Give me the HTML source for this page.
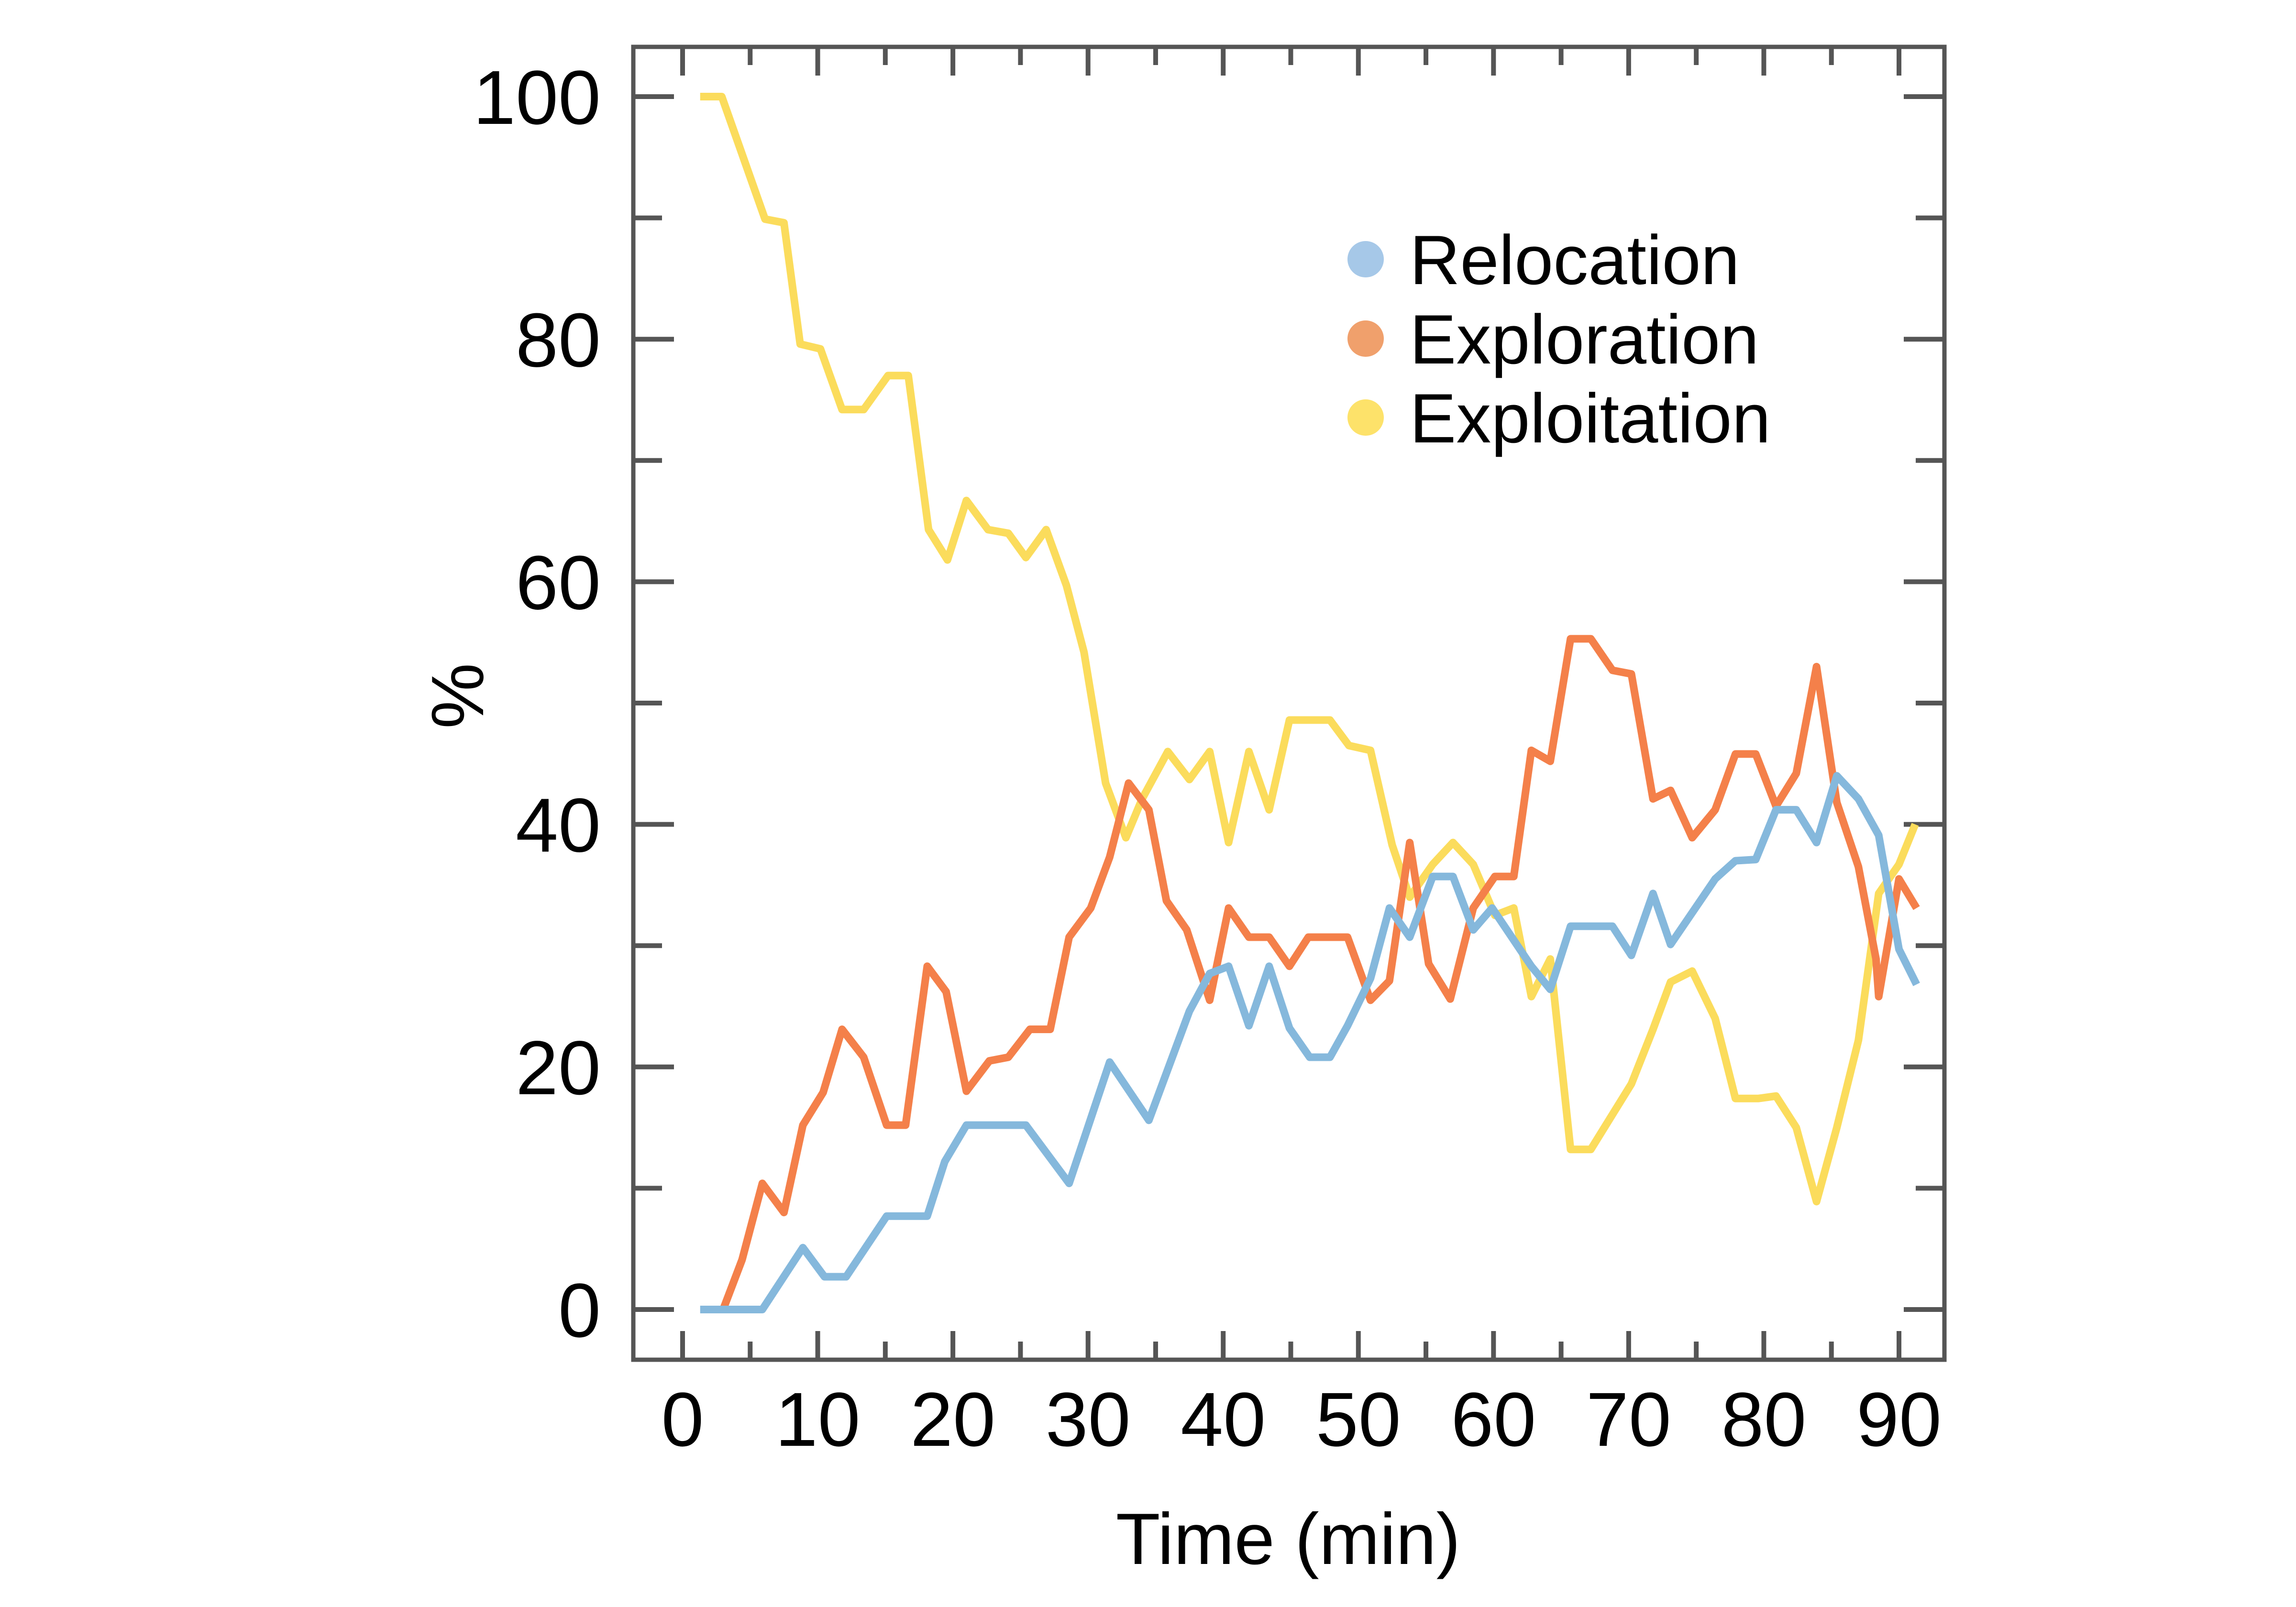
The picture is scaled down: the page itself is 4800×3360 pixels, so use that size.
<!DOCTYPE html>
<html><head><meta charset="utf-8">
<style>
html,body{margin:0;padding:0;background:#fff;}
svg{display:block;font-family:"Liberation Sans",Arial,sans-serif;}
</style></head>
<body>
<svg id="chart" width="4800" height="3360" viewBox="0 0 4800 3360" xmlns="http://www.w3.org/2000/svg">
<rect x="0" y="0" width="4800" height="3360" fill="#fff"/>
<g id="ticks"></g>
<g id="lines"></g>
<rect x="1324" y="98" width="2741" height="2745" fill="none" stroke="#555" stroke-width="9"/>
<g id="labels" font-size="160" fill="#000"></g>
<text x="0" y="0" font-size="155" text-anchor="middle" transform="translate(1010,1455) rotate(-90)">%</text>
<text x="2693" y="3270" font-size="152" text-anchor="middle">Time (min)</text>
<g font-size="146">
  <circle cx="2855" cy="542" r="38" fill="#a6c8e8"/>
  <text x="2947" y="594">Relocation</text>
  <circle cx="2855" cy="708" r="38" fill="#f0a06c"/>
  <text x="2947" y="760">Exploration</text>
  <circle cx="2855" cy="873" r="38" fill="#fde26a"/>
  <text x="2947" y="925">Exploitation</text>
</g>
</svg>
<script>
const xTickLabels = ["0","10","20","30","40","50","60","70","80","90"];
const yTickLabels = ["0","20","40","60","80","100"];
const relocT = [1.3,5.9,8.9,10.5,12.1,15.1,18.1,19.4,21,25.4,28.6,31.6,34.5,37.5,39,40.4,41.9,43.4,44.9,46.4,47.9,49.2,50.9,52.3,53.8,55.5,57,58.5,59.9,62.8,64.2,65.7,68.8,70.2,71.8,73.1,76.4,77.9,79.4,80.9,82.4,83.9,85.4,87,88.5,90,91.3];
const relocV = [0,0,5.1,2.7,2.7,7.7,7.7,12.2,15.2,15.2,10.4,20.4,15.6,24.6,27.7,28.3,23.4,28.3,23.2,20.8,20.8,23.4,27.3,33.1,30.7,35.7,35.7,31.3,33.1,28.3,26.4,31.6,31.6,29.2,34.3,30.1,35.5,37,37.1,41.2,41.2,38.5,44,42.1,39.1,29.7,26.8];
const explorT = [3,4.4,5.9,7.5,8.9,10.4,11.8,13.4,15.1,16.5,18.1,19.5,21,22.7,24.1,25.7,27.2,28.6,30.2,31.6,33,34.5,35.8,37.3,39,40.4,41.9,43.4,44.9,46.3,49.2,50.9,52.3,53.8,55.2,56.8,58.5,60.1,61.5,62.8,64.2,65.7,67.2,68.8,70.2,71.8,73.1,74.7,76.4,77.9,79.4,80.9,82.4,83.9,85.4,87,88.3,88.5,90,91.3];
const explorV = [0,4.1,10.4,8,15.2,17.9,23.1,20.8,15.2,15.2,28.3,26.2,18,20.5,20.8,23.1,23.1,30.7,33.1,37.3,43.4,41.2,33.7,31.3,25.5,33.1,30.7,30.7,28.3,30.7,30.7,25.5,27.1,38.5,28.5,25.6,33.1,35.7,35.7,46.1,45.2,55.3,55.3,52.7,52.4,42.1,42.8,38.9,41.2,45.8,45.8,41.5,44.2,53,41.8,36.5,28.9,25.8,35.5,33.1];
const exploitT = [1.3,2.9,6.1,7.5,8.7,10.2,11.8,13.4,15.2,16.7,18.2,19.6,21,22.6,24.1,25.4,26.9,28.4,29.7,31.3,32.8,34,35.9,37.5,39,40.4,41.9,43.4,44.9,47.9,49.3,50.9,52.5,53.8,55.5,57,58.5,60.1,61.5,62.8,64.2,65.7,67.2,70.2,71.8,73.1,74.7,76.4,77.9,79.6,80.9,82.4,83.9,85.4,87,88.5,90,91.2];
const exploitV = [100,100,89.9,89.6,79.6,79.2,74.2,74.2,77,77,64.3,61.8,66.7,64.3,64,62,64.3,59.7,54.2,43.4,38.9,42.1,46,43.7,46,38.5,46,41.2,48.6,48.6,46.5,46.1,38.3,34,36.7,38.5,36.7,32.5,33.1,25.8,28.9,13.2,13.2,18.6,23.1,27,27.9,24,17.4,17.4,17.6,15,8.9,15,22.2,34.3,36.7,40];

const X0=1427, X1=3970, Y0=2738, Y1=202;
const FL=1324, FR=4065, FT=98, FB=2843;
function xs(v){return X0+(v/90)*(X1-X0);}
function ys(v){return Y0-(v/100)*(Y0-Y1);}
const NS="http://www.w3.org/2000/svg";
const tg=document.getElementById('ticks'), lg=document.getElementById('lines'), lab=document.getElementById('labels');
function line(x1,y1,x2,y2,name){
  const l=document.createElementNS(NS,'line');
  l.setAttribute('x1',x1);l.setAttribute('y1',y1);l.setAttribute('x2',x2);l.setAttribute('y2',y2);
  l.setAttribute('stroke','#555');l.setAttribute('stroke-width','10');
  
  
  tg.appendChild(l);
}
for(let v=0; v<=100; v+=10){
  const y=ys(v), len = v%20===0?85:60;
  line(FL,y,FL+len,y,'y-tick');
  line(FR,y,FR-len,y,'y-tick-right');
}
for(let v=0; v<=90; v+=5){
  const x=xs(v), len = v%10===0?60:38;
  line(x,FB,x,FB-len,'x-tick');
  line(x,FT,x,FT+len,'x-tick-top');
}
yTickLabels.forEach(s=>{
  const t=document.createElementNS(NS,'text');
  t.setAttribute('x',1256);t.setAttribute('y',ys(parseFloat(s))+57);
  t.setAttribute('text-anchor','end');t.textContent=s;
  
  
  lab.appendChild(t);
});
xTickLabels.forEach(s=>{
  const t=document.createElementNS(NS,'text');
  t.setAttribute('x',xs(parseFloat(s)));t.setAttribute('y',3023);
  t.setAttribute('text-anchor','middle');t.textContent=s;
  
  
  lab.appendChild(t);
});
function series(T,V,color,name){
  const p=document.createElementNS(NS,'polyline');
  p.setAttribute('points',T.map((t,i)=>xs(t)+','+ys(V[i])).join(' '));
  p.setAttribute('fill','none');p.setAttribute('stroke',color);p.setAttribute('stroke-width','16');
  p.setAttribute('stroke-linejoin','round');
  
  
  lg.appendChild(p);
}
series(exploitT,exploitV,'#fbdc5c','exploitation-line');
series(explorT,explorV,'#f4804a','exploration-line');
series(relocT,relocV,'#85b8dc','relocation-line');
</script>
</body></html>
